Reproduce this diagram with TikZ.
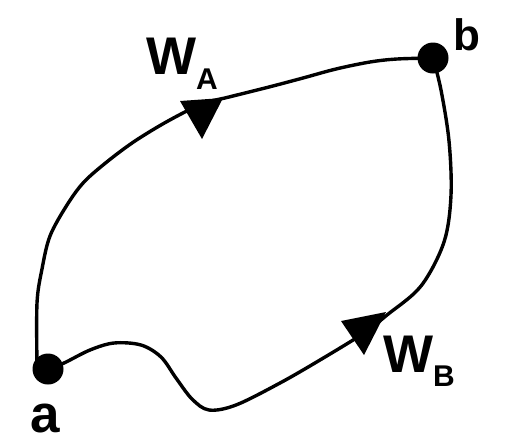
\documentclass[tikz,border=0pt]{standalone}
\usepackage{fontspec}
\setmainfont{Liberation Sans}
\begin{document}
\begin{tikzpicture}[x=1pt,y=-1pt,
  dot/.style={circle,fill=black,inner sep=0pt,minimum size=31pt},
  curve/.style={line width=3.4pt,line join=round,line cap=round},
  lbl/.style={inner sep=0pt,anchor=base west,font=\bfseries},
  tip/.style={fill=black}]
\useasboundingbox (0,0) rectangle (524,445);
\node[dot] (a) at (48,369) {};
\node[dot] (b) at (433,58) {};
\coordinate (a1) at (37,366);
% upper path W_A
\draw[curve] plot[smooth,tension=0.55] coordinates {(a1) (37,303) (42,269) (50,236) (67,205) (84,182) (108,161) (135,141) (168,121) (202,104) (229,97) (269,87) (303,78) (336,69) (370,62) (397,59) (b.center)};
% lower path W_B
\draw[curve] plot[smooth,tension=0.55] coordinates {(a.center) (64,363) (90,350) (114,343) (141,345) (161,357) (176,378) (192,399) (209,410) (236,405) (280,383) (320,360) (364,333) (387,315) (421,286) (444,242) (451,195) (449,141) (441,90) (b.center)};
% arrowheads
\coordinate (t1a) at (180,101); \coordinate (t1b) at (223,98); \coordinate (t1c) at (202,139);
\fill[tip] (t1a) -- (t1b) -- (t1c) -- cycle;
\coordinate (t2a) at (341,321); \coordinate (t2b) at (386,312); \coordinate (t2c) at (364,355);
\fill[tip] (t2a) -- (t2b) -- (t2c) -- cycle;
% labels
\node[lbl] (wa) at (146,74) {\fontsize{53}{53}\selectfont W\raisebox{-15pt}{\fontsize{30}{30}\selectfont A}};
\node[lbl] (wb) at (383,372) {\fontsize{53}{53}\selectfont W\raisebox{-14pt}{\fontsize{30}{30}\selectfont B}};
\node[lbl] (lb) at (453,50) {\fontsize{44}{44}\selectfont b};
\node[lbl] (la) at (30,432) {\fontsize{53}{53}\selectfont a};
\end{tikzpicture}
\end{document}
